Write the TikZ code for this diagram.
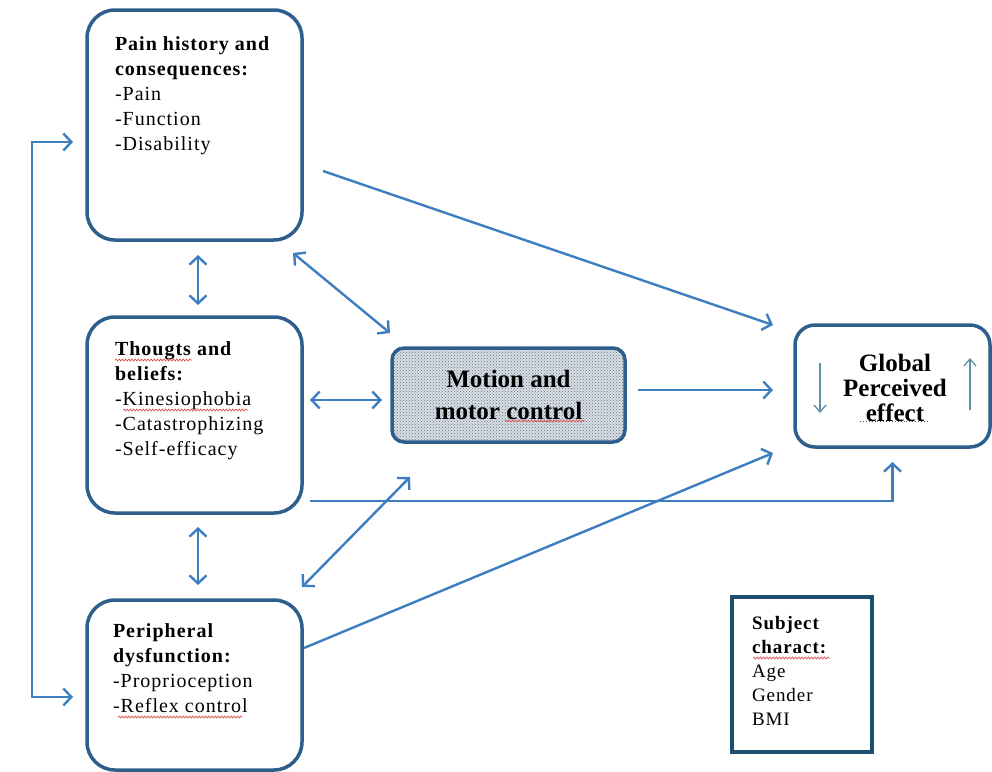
\documentclass[tikz,border=0pt]{standalone}
\usepackage{fontspec}
\setmainfont{Liberation Serif}
\newfontfamily\widefont[LetterSpace=5]{Liberation Serif}
\usetikzlibrary{arrows.meta,patterns,decorations.pathmorphing}

\definecolor{boxblue}{HTML}{2E5E8C}
\definecolor{arrowblue}{HTML}{3D7EC0}
\definecolor{navy}{HTML}{1C4E72}
\definecolor{tealgray}{HTML}{5E90A8}
\definecolor{spellred}{HTML}{D9534F}
\definecolor{motionfill}{HTML}{D6DFE8}

\begin{document}
\begin{tikzpicture}[x=1pt,y=-1pt, every node/.style={outer sep=0pt},
  roundbox/.style={draw=boxblue, line width=3.5pt, rounded corners=#1,
    inner sep=0pt, anchor=north west},
  boxtext/.style={anchor=north west, inner sep=0pt, align=left,
    font=\widefont\fontsize{20}{25}\selectfont},
  barb/.tip={Straight Barb[length=8pt,width=17pt,line width=2.4pt]},
  conn/.style={draw=arrowblue, line width=2.4pt, -barb},
  dconn/.style={draw=arrowblue, line width=2.4pt, barb-barb},
  thinarrow/.style={draw=tealgray, line width=1.3pt,
    -{Straight Barb[length=7pt,width=12pt,line width=1.3pt]}},
  spellcheck/.style={draw=spellred, line width=0.7pt, decorate,
    decoration={snake, amplitude=1pt, segment length=3.2pt}},
  grammar/.style={draw=black!70, line width=0.9pt, dotted}
]
\useasboundingbox (0,0) rectangle (992,771);

% --- left column boxes
\node[roundbox=28pt, minimum width=215pt, minimum height=230pt] (pain) at (87,10) {};
\node[roundbox=28pt, minimum width=215pt, minimum height=196pt] (thought) at (87,317) {};
\node[roundbox=28pt, minimum width=215pt, minimum height=170pt] (periph) at (87,600) {};

\node[boxtext] (paintxt) at (115,37)
  {\textbf{Pain history and}\\\textbf{consequences:}\\-Pain\\-Function\\-Disability};
\node[boxtext] (thoughttxt) at (115,342)
  {\textbf{Thougts and}\\\textbf{beliefs:}\\-Kinesiophobia\\-Catastrophizing\\-Self-efficacy};
\node[boxtext] (periphtxt) at (113,624)
  {\textbf{Peripheral}\\\textbf{dysfunction:}\\-Proprioception\\-Reflex control};

% --- central box with dotted fill
\node[draw=boxblue, line width=3.5pt, rounded corners=12pt,
  preaction={fill=motionfill}, pattern=crosshatch dots, pattern color=black!55,
  minimum width=233pt, minimum height=94pt, inner sep=0pt, align=center,
  font=\bfseries\fontsize{25}{32}\selectfont] (motion) at (508.5,395)
  {Motion and\\motor control};

% --- outcome box
\node[draw=boxblue, line width=3.5pt, rounded corners=20pt,
  minimum width=195pt, minimum height=122pt, inner sep=0pt] (global) at (892.5,386) {};
\node[align=center, inner sep=0pt, font=\bfseries\fontsize{25}{25}\selectfont]
  (globaltxt) at (895,388) {Global\\Perceived\\effect};
\draw[thinarrow] ([shift={(-72.5,-23)}]global.center) -- ([shift={(-72.5,27)}]global.center);
\draw[thinarrow] ([shift={(77.5,24)}]global.center) -- ([shift={(77.5,-28)}]global.center);

% --- subject characteristics
\node[draw=navy, line width=4.5pt, minimum width=140pt, minimum height=155pt,
  inner sep=0pt, anchor=north west] (subject) at (732,597) {};
\node[anchor=north west, inner sep=0pt, align=left,
  font=\widefont\fontsize{19}{24}\selectfont] (subjecttxt) at (752,616)
  {\textbf{Subject}\\\textbf{charact:}\\Age\\Gender\\BMI};

% --- connectors
\draw[dconn] ([shift={(-14,17)}]pain.west) -- ++(-41,0) |- ([shift={(-14,12)}]periph.west);
\draw[dconn] ([shift={(3.5,15)}]pain.south) -- ([shift={(3.5,-12)}]thought.north);
\draw[dconn] ([shift={(3.5,14)}]thought.south) -- ([shift={(3.5,-15)}]periph.north);
\draw[dconn] ([shift={(-9,13)}]pain.south east) -- ([shift={(-2,-15)}]motion.north west);
\draw[dconn] ([shift={(8,-15)}]thought.east) -- ([shift={(-10,5)}]motion.west);
\draw[dconn] ([shift={(0,-13)}]periph.north east) -- ([shift={(18,35)}]motion.south west);
\draw[conn] ([shift={(13,-5)}]motion.east) -- ([shift={(-22,4)}]global.west);
\draw[conn] ([shift={(21,46)}]pain.east) -- ([shift={(-22,0)}]global.north west);
\draw[conn] ([shift={(8,-12)}]thought.south east) -| ([shift={(0,15)}]global.south);
\draw[conn] ([shift={(2,-37)}]periph.east) -- ([shift={(-22,6)}]global.south west);

% --- proofing underlines
\draw[spellcheck] (115,360) -- (192,360);
\draw[spellcheck] (123,410) -- (248,410);
\draw[spellcheck] (118,717) -- (242,717);
\draw[spellcheck] (753,658) -- (830,658);
\draw[spellcheck] (505,421) -- (585,421);
\draw[grammar] (860,421) -- (927,421);
\end{tikzpicture}
\end{document}
